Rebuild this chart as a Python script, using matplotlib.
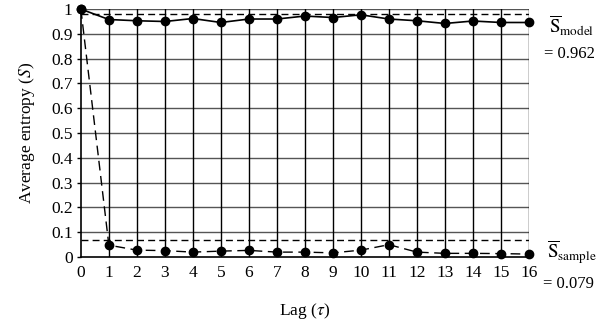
import matplotlib
matplotlib.use("Agg")
import matplotlib.pyplot as plt
import numpy as np

plt.rcParams["font.family"] = ["Liberation Serif", "DejaVu Serif"]
plt.rcParams["mathtext.fontset"] = "stix"

lags = list(range(17))
model = [1.0, 0.958, 0.953, 0.950, 0.962, 0.946, 0.960, 0.960, 0.972,
         0.966, 0.977, 0.960, 0.953, 0.942, 0.952, 0.946, 0.946]
sample = [1.0, 0.048, 0.028, 0.026, 0.020, 0.024, 0.027, 0.020, 0.020,
          0.017, 0.028, 0.050, 0.020, 0.015, 0.015, 0.014, 0.012]
model_line = 0.98
sample_line = 0.067
model_label = "0.962"
sample_label = "0.079"

fig = plt.figure(figsize=(6.08, 3.25), dpi=100)
ax = fig.add_axes([0.133, 0.209, 0.737, 0.763])

ax.set_xlim(0, 16)
ax.set_ylim(0, 1)
ax.set_xticks(lags)
ax.set_yticks(np.arange(0, 1.01, 0.1))
ax.set_yticklabels(["0"] + ["%.1f" % v for v in np.arange(0.1, 0.95, 0.1)] + ["1"])
for y in np.arange(0.1, 1.01, 0.1):
    ax.axhline(y, color="#555555", lw=1.0, zorder=1)
for x in lags[1:]:
    ax.axvline(x, color="black", lw=1.0, zorder=1)

ax.axhline(model_line, color="black", lw=1.0, ls=(0, (5, 3)), zorder=2)
ax.axhline(sample_line, color="black", lw=1.0, ls=(0, (5, 3)), zorder=2)

ax.plot(lags, model, "-", color="black", lw=1.2, marker="o", ms=6, zorder=3, clip_on=False)
ax.plot(lags, sample, color="black", lw=1.0, ls=(0, (7, 4)), marker="o", ms=6,
        zorder=3, clip_on=False)

for s in ["top", "right"]:
    ax.spines[s].set_visible(False)
ax.spines["left"].set_linewidth(1.2)
ax.spines["bottom"].set_linewidth(1.2)
ax.tick_params(axis="y", length=3, width=1, labelsize=12.5, direction="out", pad=3)
ax.tick_params(axis="x", length=0, labelsize=12.5, pad=6)

ax.set_xlabel(r"Lag ($\tau$)", fontsize=12.5, labelpad=14)
ax.set_ylabel(r"Average entropy ($S$)", fontsize=12.5, labelpad=10)

fig.text(0.903, 0.898, r"$\overline{\mathrm{S}}_{\mathrm{model}}$", fontsize=13.5,
         ha="left", va="baseline")
fig.text(0.895, 0.822, "= " + model_label, fontsize=12, ha="left", va="baseline")
fig.text(0.900, 0.206, r"$\overline{\mathrm{S}}_{\mathrm{sample}}$", fontsize=13.5,
         ha="left", va="baseline")
fig.text(0.893, 0.114, "= " + sample_label, fontsize=12, ha="left", va="baseline")

fig.savefig("out.png", dpi=100)
